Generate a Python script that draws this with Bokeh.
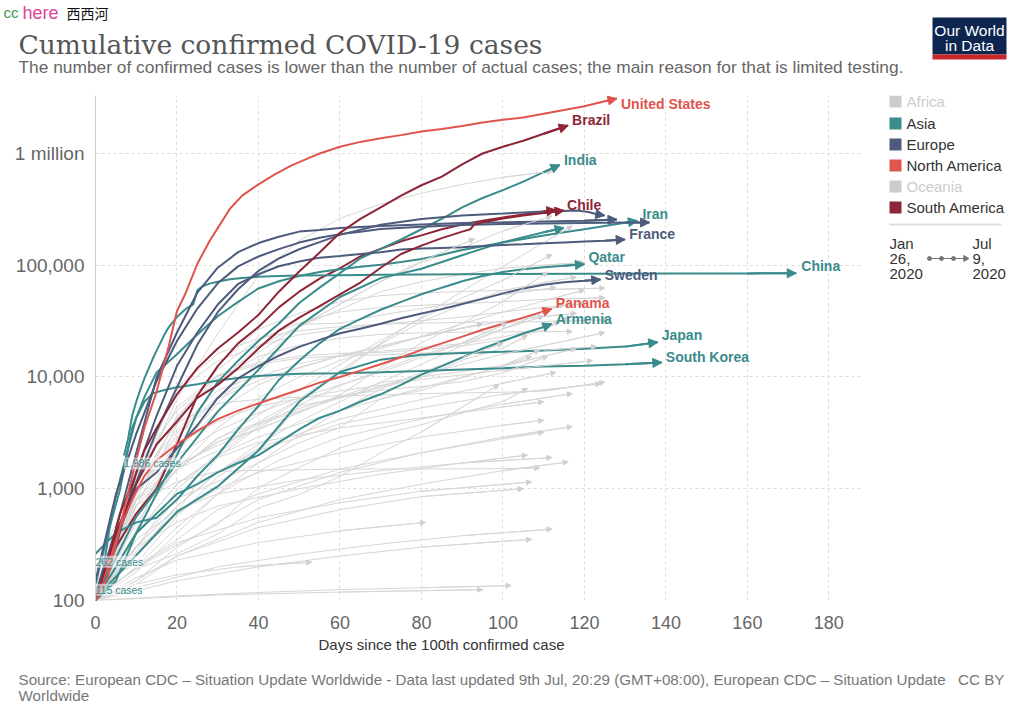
from bokeh.plotting import figure
from bokeh.models import ColumnDataSource, Label, Arrow, NormalHead, FixedTicker, Range1d
from bokeh.layouts import column, row
from bokeh.core.properties import value
from bokeh.embed import file_html
from bokeh.resources import INLINE

# ---------------- data ----------------
x_ticks = [0, 20, 40, 60, 80, 100, 120, 140, 160, 180]
y_ticks = [100, 1000, 10000, 100000, 1000000]
y_tick_labels = ["100", "1,000", "10,000", "100,000", "1 million"]
continents = ["Africa", "Asia", "Europe", "North America", "Oceania", "South America"]
continent_active = [False, True, True, True, False, True]

# highlighted countries (days since 100th case, cumulative confirmed cases)
us_days = [0, 3, 6, 9, 12, 15, 18, 20, 22, 25, 28, 30, 33, 36, 40, 44, 48, 52, 55, 60, 65, 70, 75, 80, 85, 90, 95, 100, 105, 110, 115, 120, 125, 128]
us_cases = [100, 160, 450, 1300, 3500, 7400, 19000, 39000, 55000, 103000, 165000, 215000, 320000, 420000, 530000, 650000, 780000, 900000, 1000000, 1150000, 1270000, 1370000, 1460000, 1570000, 1660000, 1760000, 1890000, 2000000, 2100000, 2270000, 2450000, 2650000, 2930000, 3100000]
brazil_days = [0, 3, 6, 9, 12, 15, 20, 25, 30, 35, 40, 45, 50, 55, 60, 65, 70, 75, 80, 85, 90, 95, 100, 105, 110, 116]
brazil_cases = [100, 230, 600, 1100, 2200, 3500, 7000, 12000, 18000, 25000, 36000, 58000, 88000, 130000, 195000, 260000, 330000, 420000, 520000, 620000, 800000, 1000000, 1150000, 1300000, 1500000, 1780000]
india_days = [0, 5, 10, 15, 20, 25, 30, 35, 40, 45, 50, 55, 60, 65, 70, 75, 80, 85, 90, 95, 100, 105, 110, 114]
india_cases = [100, 150, 400, 900, 2000, 4800, 9000, 14000, 21000, 30000, 46000, 63000, 85000, 115000, 140000, 170000, 210000, 260000, 330000, 400000, 470000, 560000, 680000, 790000]
chile_days = [0, 5, 10, 15, 20, 25, 30, 35, 40, 45, 50, 55, 60, 65, 70, 75, 80, 85, 90, 92, 93, 95, 100, 105, 110, 115]
chile_cases = [100, 400, 1100, 2500, 4000, 6500, 8500, 12000, 18000, 26000, 34000, 43000, 55000, 70000, 95000, 126000, 150000, 175000, 200000, 210000, 232000, 242000, 262000, 278000, 293000, 309000]
peru_days = [0, 5, 10, 15, 20, 25, 30, 35, 40, 45, 50, 55, 60, 65, 70, 75, 80, 85, 90, 95, 100, 105, 110, 113]
peru_cases = [100, 300, 600, 1000, 2500, 6800, 12500, 20000, 28000, 42000, 58000, 76000, 94000, 120000, 140000, 164000, 185000, 210000, 232000, 250000, 268000, 285000, 302000, 312000]
spain_days = [0, 5, 10, 15, 20, 25, 30, 35, 40, 45, 50, 55, 60, 70, 80, 90, 100, 110, 120, 128]
spain_cases = [114, 430, 2100, 9900, 25000, 57000, 95000, 131000, 158000, 180000, 200000, 207000, 215000, 224000, 232000, 239000, 242000, 246000, 250000, 257000]
italy_days = [0, 5, 10, 15, 20, 25, 30, 35, 40, 45, 50, 55, 60, 65, 70, 80, 90, 100, 110, 120, 130, 136]
italy_cases = [150, 890, 3100, 9200, 21000, 41000, 69000, 97700, 119800, 139400, 159500, 175900, 189900, 199400, 210700, 221200, 229300, 233500, 236300, 238700, 240900, 241500]
uk_days = [0, 5, 10, 15, 20, 25, 30, 35, 40, 45, 50, 55, 60, 70, 80, 90, 100, 105, 110, 115, 118, 121, 123, 125]
uk_cases = [115, 370, 1140, 3300, 8100, 19500, 38000, 61000, 89000, 115000, 139000, 161000, 187000, 230000, 259000, 279000, 290000, 296000, 302000, 306000, 309000, 300000, 286000, 279000]
france_days = [0, 5, 10, 15, 20, 25, 30, 35, 40, 45, 50, 55, 60, 65, 70, 75, 80, 85, 90, 95, 100, 105, 110, 115, 120, 125, 130]
france_cases = [100, 300, 1400, 4500, 12600, 25000, 44500, 68000, 83000, 98000, 108000, 117000, 121000, 126000, 131000, 138000, 141000, 143000, 145000, 149000, 152000, 154000, 157000, 160000, 163000, 166000, 170000]
sweden_days = [0, 5, 10, 15, 20, 25, 30, 35, 40, 45, 50, 55, 60, 65, 70, 75, 80, 85, 90, 95, 100, 105, 110, 115, 120, 124]
sweden_cases = [100, 350, 1000, 1400, 2300, 3700, 6500, 9700, 12500, 15500, 18600, 21500, 24600, 27000, 30000, 33500, 37000, 40500, 45000, 50000, 56000, 62000, 67000, 70500, 72500, 74500]
iran_days = [0, 3, 6, 9, 12, 15, 20, 25, 30, 35, 40, 45, 50, 55, 60, 65, 70, 75, 80, 85, 90, 95, 100, 105, 110, 115, 120, 125, 130, 133]
iran_cases = [140, 390, 980, 3500, 6600, 11000, 16000, 24000, 35000, 47000, 62000, 72000, 80000, 87000, 92000, 97000, 101000, 107000, 114000, 124000, 137000, 148000, 160000, 172000, 185000, 197000, 210000, 225000, 240000, 250000]
china_days = [7, 8, 9, 10, 11, 12, 13, 14, 15, 16, 17, 18, 19, 20, 21, 22, 23, 24, 25, 26, 27, 28, 30, 33, 36, 40, 45, 50, 60, 70, 80, 100, 120, 140, 160, 172]
china_cases = [1986, 2800, 4500, 6000, 7700, 9700, 11800, 14400, 17200, 20400, 24300, 28000, 31000, 34500, 37200, 40200, 42700, 44700, 59800, 63800, 66400, 68500, 71300, 75000, 77000, 78900, 80300, 80900, 81500, 82100, 82700, 83300, 84000, 84200, 84500, 84900]
qatar_days = [0, 5, 10, 15, 20, 25, 30, 35, 40, 45, 50, 55, 60, 65, 70, 75, 80, 85, 90, 95, 100, 105, 110, 115, 120]
qatar_cases = [262, 400, 500, 550, 800, 1300, 2000, 3400, 5500, 9400, 14000, 20000, 27000, 33000, 40000, 47000, 55000, 63000, 72000, 80000, 87000, 92000, 96000, 99000, 102000]
saudi_days = [0, 10, 20, 30, 40, 50, 60, 70, 80, 90, 100, 110, 115]
saudi_cases = [103, 560, 1700, 4900, 11600, 28700, 52000, 76700, 93000, 123000, 161000, 197000, 216000]
armenia_days = [0, 5, 10, 15, 20, 25, 30, 35, 40, 45, 50, 55, 60, 65, 70, 75, 80, 85, 90, 95, 100, 105, 110, 112]
armenia_cases = [100, 200, 400, 600, 900, 1100, 1400, 1700, 2000, 2600, 3400, 4300, 5000, 6000, 7000, 8500, 10500, 12500, 15000, 18000, 21000, 24500, 28000, 29900]
japan_days = [0, 10, 20, 30, 40, 50, 60, 70, 80, 90, 100, 110, 120, 130, 138]
japan_cases = [105, 254, 620, 1050, 2200, 6000, 11100, 14300, 15800, 16400, 16800, 17300, 17900, 18700, 20500]
korea_days = [0, 2, 4, 6, 8, 10, 12, 14, 16, 18, 20, 25, 30, 35, 40, 45, 50, 60, 70, 80, 90, 100, 110, 120, 130, 139]
korea_cases = [104, 200, 600, 1200, 2300, 4300, 6000, 7100, 7500, 7800, 8100, 8600, 9300, 9800, 10200, 10500, 10700, 10800, 11000, 11300, 11700, 12000, 12400, 12600, 13000, 13500]
panama_days = [0, 3, 6, 9, 12, 15, 20, 25, 30, 35, 40, 45, 50, 55, 60, 65, 70, 75, 80, 85, 90, 95, 100, 105, 110, 112]
panama_cases = [100, 200, 450, 800, 1300, 1800, 2500, 3300, 4200, 5000, 5800, 6700, 7700, 8900, 10000, 11400, 13000, 15000, 17500, 20000, 23000, 26500, 30000, 34000, 38500, 40700]

# other countries (grey)
g_russia_d = [0, 10, 20, 30, 40, 50, 60, 70, 80, 90, 100, 112]
g_russia_c = [114, 1036, 6343, 24490, 80949, 165929, 262843, 353427, 441108, 528964, 613148, 693000]
g_mexico_d = [0, 10, 20, 30, 40, 50, 60, 70, 80, 90, 100, 112]
g_mexico_c = [118, 585, 2143, 5847, 13842, 27634, 45032, 71105, 105680, 142690, 202951, 275003]
g_safrica_d = [0, 10, 20, 30, 40, 50, 60, 70, 80, 90, 100, 110, 117]
g_safrica_c = [116, 554, 1505, 2173, 3953, 6336, 11350, 20125, 34357, 58568, 97302, 159333, 224665]
g_canada_d = [0, 10, 20, 30, 40, 50, 60, 70, 80, 90, 100, 110, 120]
g_canada_c = [103, 424, 2792, 8612, 19141, 28379, 40179, 58000, 71000, 83000, 94000, 100000, 106000]
g_belgium_d = [0, 10, 20, 30, 40, 50, 60, 70, 80, 90, 100, 110, 125]
g_belgium_c = [109, 689, 3743, 12775, 26667, 37183, 47334, 53449, 56235, 58381, 59569, 60550, 62469]
g_nether_d = [0, 10, 20, 30, 40, 50, 60, 70, 80, 90, 100, 110, 125]
g_nether_c = [128, 959, 4204, 11750, 21762, 30449, 38245, 41774, 43880, 45445, 47152, 49426, 51146]
g_colombia_d = [0, 10, 20, 30, 40, 50, 60, 70, 80, 90, 100, 112]
g_colombia_c = [102, 608, 1485, 2776, 4561, 7668, 12930, 21175, 33354, 50939, 73572, 124494]
g_argentina_d = [0, 10, 20, 30, 40, 50, 60, 70, 80, 90, 100, 111]
g_argentina_c = [128, 820, 1628, 2442, 3435, 4783, 6879, 12076, 20197, 30295, 47216, 87030]
g_egypt_d = [0, 10, 20, 30, 40, 50, 60, 70, 80, 90, 100, 110, 118]
g_egypt_c = [109, 294, 985, 2065, 3659, 6193, 10829, 19666, 31115, 44598, 59561, 69814, 78304]
g_bangla_d = [0, 10, 20, 30, 40, 50, 60, 70, 80, 93]
g_bangla_c = [123, 1572, 4998, 10143, 16660, 28511, 44608, 71675, 108775, 172134]
g_ecuador_d = [0, 10, 20, 30, 40, 50, 60, 70, 80, 90, 100, 113]
g_ecuador_c = [111, 1173, 3368, 7603, 10398, 29538, 30298, 35828, 40966, 46751, 54574, 63245]
g_portugal_d = [0, 10, 20, 30, 40, 50, 60, 70, 80, 90, 100, 110, 120]
g_portugal_c = [112, 1280, 7443, 13956, 19022, 23864, 26715, 29660, 31946, 34351, 38089, 41912, 45277]
g_swiss_d = [0, 10, 20, 30, 40, 50, 60, 70, 80, 90, 100, 110, 126]
g_swiss_c = [120, 1125, 8060, 16176, 22253, 25936, 28268, 29705, 30344, 30796, 31011, 31292, 32498]
g_austria_d = [0, 10, 20, 30, 40, 50, 60, 70, 80, 90, 100, 110, 123]
g_austria_c = [104, 800, 4468, 10180, 12942, 14749, 15402, 15752, 16321, 16731, 17034, 17323, 18655]
g_ireland_d = [0, 10, 20, 30, 40, 50, 60, 70, 80, 90, 100, 110, 117]
g_ireland_c = [129, 1329, 4273, 9655, 15251, 19262, 22248, 24112, 24841, 25163, 25335, 25477, 25538]
g_israel_d = [0, 10, 20, 30, 40, 50, 60, 70, 80, 90, 100, 110, 116]
g_israel_c = [193, 1238, 5358, 10408, 13491, 15398, 16268, 16539, 17495, 18972, 21512, 26257, 33947]
g_poland_d = [0, 10, 20, 30, 40, 50, 60, 70, 80, 90, 100, 110, 118]
g_poland_c = [104, 901, 2946, 6356, 9287, 12218, 15366, 18529, 22825, 27160, 31620, 34775, 37216]
g_romania_d = [0, 10, 20, 30, 40, 50, 60, 70, 80, 90, 100, 110, 114]
g_romania_c = [184, 906, 3183, 6633, 10096, 13163, 15588, 17036, 18283, 19907, 22760, 27746, 31376]
g_nigeria_d = [0, 10, 20, 30, 40, 50, 60, 70, 80, 90, 101]
g_nigeria_c = [111, 276, 627, 1932, 3526, 5621, 8344, 11516, 15682, 20244, 30249]
g_ghana_d = [0, 10, 20, 30, 40, 50, 60, 70, 80, 90, 100, 106]
g_ghana_c = [137, 214, 566, 1279, 2169, 5530, 6486, 8070, 9910, 14154, 18134, 23463]
g_algeria_d = [0, 10, 20, 30, 40, 50, 60, 70, 80, 90, 100, 109]
g_algeria_c = [139, 716, 1572, 2629, 3382, 4838, 6629, 8857, 10050, 11147, 12685, 17348]
g_morocco_d = [0, 10, 20, 30, 40, 50, 60, 70, 80, 90, 100, 111]
g_morocco_c = [115, 791, 1448, 2855, 3897, 5219, 6741, 7643, 8224, 9074, 10907, 15328]
g_cameroon_d = [0, 10, 20, 30, 40, 50, 60, 70, 80, 90, 100, 107]
g_cameroon_c = [113, 306, 820, 1163, 1705, 2579, 3529, 6397, 7599, 9864, 12592, 15173]
g_kenya_d = [0, 10, 20, 30, 40, 50, 60, 70, 80, 99]
g_kenya_c = [110, 191, 262, 395, 672, 887, 1286, 2093, 3215, 8528]
g_senegal_d = [0, 10, 20, 30, 40, 50, 60, 70, 80, 90, 100, 106]
g_senegal_c = [105, 195, 314, 479, 1024, 1551, 2310, 3047, 3739, 4759, 6034, 7882]
g_australia_d = [0, 10, 20, 30, 40, 50, 60, 70, 80, 90, 100, 110, 125]
g_australia_c = [100, 1100, 3900, 5800, 6300, 6600, 6800, 6900, 7100, 7200, 7300, 7500, 9000]
g_nz_d = [0, 10, 20, 30, 40, 50, 60, 70, 80, 90, 100, 109]
g_nz_c = [102, 708, 1160, 1431, 1461, 1478, 1497, 1504, 1504, 1506, 1513, 1533]
g_m1_d = [0, 10, 20, 30, 40, 50, 60, 70, 80, 90, 100, 110, 120]
g_m1_c = [100, 500, 1500, 3500, 6500, 10000, 14000, 18000, 23000, 30000, 38000, 48000, 60000]
g_m2_d = [0, 10, 20, 30, 40, 50, 60, 70, 80, 90, 100, 115]
g_m2_c = [100, 300, 700, 1400, 2500, 4000, 6000, 9000, 13000, 19000, 27000, 45000]
g_m3_d = [0, 10, 20, 30, 40, 50, 60, 70, 80, 90, 100, 110]
g_m3_c = [100, 800, 2000, 3300, 4800, 6500, 8500, 11000, 15000, 20000, 27000, 35000]
g_m4_d = [0, 10, 20, 30, 40, 60, 80, 100, 125]
g_m4_c = [100, 600, 1500, 2600, 3800, 6500, 10500, 16000, 25000]
g_m5_d = [0, 10, 20, 30, 40, 60, 80, 100, 118]
g_m5_c = [100, 400, 1100, 2000, 2900, 5000, 8000, 12500, 18000]
g_m6_d = [0, 10, 20, 30, 40, 60, 80, 100, 122]
g_m6_c = [100, 900, 2500, 4000, 5500, 7500, 9500, 11500, 14000]
g_m7_d = [0, 10, 20, 30, 40, 60, 80, 100, 113]
g_m7_c = [100, 250, 700, 1400, 2300, 4200, 6300, 8800, 11000]
g_m8_d = [0, 10, 20, 30, 40, 50, 60, 70, 80, 90, 100]
g_m8_c = [100, 200, 450, 900, 1700, 3000, 5000, 7800, 11000, 15000, 20000]
g_m9_d = [0, 10, 20, 30, 40, 50, 60, 70, 80, 95]
g_m9_c = [100, 600, 2200, 5000, 8500, 12000, 15500, 19000, 23000, 30000]
g_s1_d = [0, 10, 20, 30, 40, 60, 80, 100, 124]
g_s1_c = [100, 300, 700, 1400, 2200, 3800, 5300, 7000, 8700]
g_s2_d = [0, 10, 20, 30, 45, 60, 80, 100, 117]
g_s2_c = [100, 180, 400, 900, 1800, 2900, 4200, 5700, 7100]
g_s3_d = [0, 10, 20, 30, 40, 60, 80, 100, 110]
g_s3_c = [100, 400, 1100, 1900, 2600, 3500, 4300, 5400, 6000]
g_s4_d = [0, 10, 20, 30, 40, 60, 80, 100, 110]
g_s4_c = [100, 250, 600, 1000, 1400, 2100, 2900, 3700, 4100]
g_s5_d = [0, 10, 20, 30, 40, 60, 80, 100, 117]
g_s5_c = [100, 150, 300, 500, 800, 1400, 2100, 2900, 3600]
g_s6_d = [0, 10, 20, 30, 40, 60, 80, 100, 110]
g_s6_c = [100, 200, 350, 650, 900, 1500, 2100, 2800, 3200]
g_s7_d = [0, 10, 20, 30, 50, 70, 90, 106]
g_s7_c = [100, 300, 500, 700, 1000, 1350, 1700, 2000]
g_s8_d = [0, 10, 20, 40, 60, 80, 100, 116]
g_s8_c = [100, 140, 250, 500, 800, 1100, 1450, 1740]
g_s9_d = [0, 10, 20, 30, 50, 70, 90, 112]
g_s9_c = [100, 350, 650, 900, 1200, 1450, 1700, 1900]
g_s10_d = [0, 10, 20, 40, 60, 80, 107]
g_s10_c = [100, 200, 330, 550, 750, 950, 1150]
g_s11_d = [0, 10, 20, 40, 60, 80, 105]
g_s11_c = [100, 150, 250, 450, 650, 850, 1000]
g_s12_d = [0, 10, 20, 40, 60, 81]
g_s12_c = [100, 160, 230, 330, 420, 500]
g_s13_d = [0, 10, 30, 50, 70, 90, 112]
g_s13_c = [100, 130, 200, 260, 320, 380, 435]
g_s14_d = [0, 20, 40, 60, 80, 107]
g_s14_c = [100, 150, 200, 250, 300, 353]
g_s15_d = [0, 10, 20, 35, 53]
g_s15_c = [100, 140, 170, 200, 220]
g_s16_d = [0, 20, 40, 60, 80, 102]
g_s16_c = [100, 110, 118, 125, 130, 136]
g_s17_d = [0, 30, 60, 95]
g_s17_c = [100, 112, 119, 125]

start_notes = ["1,986 cases", "262 cases", "115 cases"]

# ---------------- styling ----------------
TEAL = "#3a8b8b"
EURO = "#4d5b7c"
NAM = "#e0544e"
SAM = "#8e2537"
GREY = "#d6d6d6"
CONT_COL = ["#cccccc", TEAL, EURO, NAM, "#cccccc", SAM]
SANS = "Liberation Sans"

# page geometry (pixels of the 1024x722 page)
HEAD_H, MAIN_H = 80, 552
FOOT_H = 722 - HEAD_H - MAIN_H
MAIN_W, LEG_W = 880, 144
FL, FR, FT, FB = 95, 863, 95, 600
XMAX = 188.5
YMIN, YMAX = 100, 10 ** 6.519


def deco_fig(w, h, x0, y_top, y_bot, b_top=0, b_bot=0):
    f = figure(width=w, height=h, x_range=Range1d(x0, x0 + w), y_range=Range1d(y_bot, y_top),
               x_axis_type=None, y_axis_type=None, output_backend="svg", toolbar_location=None,
               min_border_left=0, min_border_right=0, min_border_top=b_top, min_border_bottom=b_bot)
    f.outline_line_color = None
    f.grid.visible = False
    f.background_fill_color = "white"
    f.border_fill_color = "white"
    return f


def txt(f, x, y, text, size, color, font=SANS, style="normal", align="left", baseline="middle"):
    f.text(x=[x], y=[y], text=[text], text_font=value(font), text_font_size=f"{size}px",
           text_color=color, text_font_style=style, text_align=align, text_baseline=baseline)


# ---------------- main chart ----------------
p = figure(width=MAIN_W, height=MAIN_H, x_range=Range1d(0, XMAX), y_range=Range1d(YMIN, YMAX),
           y_axis_type="log", output_backend="svg", toolbar_location=None,
           min_border_left=FL, min_border_right=MAIN_W - FR, min_border_top=FT - HEAD_H,
           min_border_bottom=HEAD_H + MAIN_H - FB)
p.outline_line_color = None
p.background_fill_color = "white"
p.border_fill_color = "white"

p.xaxis.ticker = FixedTicker(ticks=x_ticks)
p.yaxis.ticker = FixedTicker(ticks=y_ticks)
p.yaxis.major_label_overrides = {t: s for t, s in zip(y_ticks, y_tick_labels)}
for ax in (p.xaxis, p.yaxis):
    ax.major_tick_line_color = None
    ax.minor_tick_line_color = None
    ax.major_label_text_font = SANS
    ax.major_label_text_color = "#666666"
p.xaxis.axis_line_color = None
p.xaxis.major_label_text_font_size = "18px"
p.xaxis.major_label_standoff = 9
p.yaxis.axis_line_color = "#cccccc"
p.yaxis.major_label_text_font_size = "19px"
p.yaxis.major_label_standoff = 5

p.xgrid.ticker = FixedTicker(ticks=x_ticks[1:])
p.ygrid.ticker = FixedTicker(ticks=y_ticks)
for g in (p.xgrid, p.ygrid):
    g.grid_line_color = "#dddddd"
    g.grid_line_dash = "3 3"
    g.grid_line_width = 1

grey_series = [
    (g_russia_d, g_russia_c), (g_mexico_d, g_mexico_c), (g_safrica_d, g_safrica_c), (g_canada_d, g_canada_c),
    (g_belgium_d, g_belgium_c), (g_nether_d, g_nether_c), (g_colombia_d, g_colombia_c), (g_argentina_d, g_argentina_c),
    (g_egypt_d, g_egypt_c), (g_bangla_d, g_bangla_c), (g_ecuador_d, g_ecuador_c), (g_portugal_d, g_portugal_c),
    (g_swiss_d, g_swiss_c), (g_austria_d, g_austria_c), (g_ireland_d, g_ireland_c), (g_israel_d, g_israel_c),
    (g_poland_d, g_poland_c), (g_romania_d, g_romania_c), (g_nigeria_d, g_nigeria_c), (g_ghana_d, g_ghana_c),
    (g_algeria_d, g_algeria_c), (g_morocco_d, g_morocco_c), (g_cameroon_d, g_cameroon_c), (g_kenya_d, g_kenya_c),
    (g_senegal_d, g_senegal_c), (g_australia_d, g_australia_c), (g_nz_d, g_nz_c),
    (g_m1_d, g_m1_c), (g_m2_d, g_m2_c), (g_m3_d, g_m3_c), (g_m4_d, g_m4_c), (g_m5_d, g_m5_c),
    (g_m6_d, g_m6_c), (g_m7_d, g_m7_c), (g_m8_d, g_m8_c), (g_m9_d, g_m9_c),
    (g_s1_d, g_s1_c), (g_s2_d, g_s2_c), (g_s3_d, g_s3_c), (g_s4_d, g_s4_c), (g_s5_d, g_s5_c),
    (g_s6_d, g_s6_c), (g_s7_d, g_s7_c), (g_s8_d, g_s8_c), (g_s9_d, g_s9_c), (g_s10_d, g_s10_c),
    (g_s11_d, g_s11_c), (g_s12_d, g_s12_c), (g_s13_d, g_s13_c), (g_s14_d, g_s14_c), (g_s15_d, g_s15_c),
    (g_s16_d, g_s16_c), (g_s17_d, g_s17_c),
]
gsrc = dict(x0=[], y0=[], x1=[], y1=[])
for d, c in grey_series:
    p.line(d, c, line_color=GREY, line_width=1)
    gsrc["x0"].append(d[-2]); gsrc["y0"].append(c[-2])
    gsrc["x1"].append(d[-1]); gsrc["y1"].append(c[-1])
p.add_layout(Arrow(end=NormalHead(size=5, fill_color="#d0d0d0", line_color="#d0d0d0"),
                   x_start="x0", y_start="y0", x_end="x1", y_end="y1",
                   source=ColumnDataSource(gsrc), line_color=GREY, line_width=1))

# (label, days, cases, colour, label x offset px, label y offset px)
highlight = [
    (None, peru_days, peru_cases, SAM, 0, 0),
    (None, saudi_days, saudi_cases, TEAL, 0, 0),
    ("Japan", japan_days, japan_cases, TEAL, 4, 7),
    ("South Korea", korea_days, korea_cases, TEAL, 4, 5),
    ("Armenia", armenia_days, armenia_cases, TEAL, 4, 5),
    ("Qatar", qatar_days, qatar_cases, TEAL, 4, 7),
    ("Iran", iran_days, iran_cases, TEAL, 5, 7),
    ("China", china_days, china_cases, TEAL, 5, 7),
    ("India", india_days, india_cases, TEAL, 4, 5),
    ("Sweden", sweden_days, sweden_cases, EURO, 4, 5),
    ("France", france_days, france_cases, EURO, 4, 5),
    (None, italy_days, italy_cases, EURO, 0, 0),
    (None, spain_days, spain_cases, EURO, 0, 0),
    (None, uk_days, uk_cases, EURO, 0, 0),
    ("Panama", panama_days, panama_cases, NAM, 4, 6),
    ("Chile", chile_days, chile_cases, SAM, 3, 5),
    ("Brazil", brazil_days, brazil_cases, SAM, 4, 6),
    ("United States", us_days, us_cases, NAM, 4, -5),
]
for name, d, c, col, ox, oy in highlight:
    p.line(d, c, line_color=col, line_width=2)
for name, d, c, col, ox, oy in highlight:
    p.add_layout(Arrow(end=NormalHead(size=9, fill_color=col, line_color=col, line_width=1),
                       x_start=d[-2], y_start=c[-2], x_end=d[-1], y_end=c[-1],
                       line_color=col, line_width=2))
    if name:
        p.add_layout(Label(x=d[-1], y=c[-1], x_offset=ox, y_offset=oy, text=name, text_color=col,
                           text_font=SANS, text_font_size="14px", text_font_style="bold",
                           text_baseline="middle", text_align="left"))

note_style = [("top", -2), ("top", -2), ("middle", 4)]
for note, d, c, (bl, oy) in zip(start_notes, [china_days, qatar_days, uk_days], [china_cases, qatar_cases, uk_cases], note_style):
    p.add_layout(Label(x=d[0], y=c[0], x_offset=0, y_offset=oy, text=note, text_color="#3a8b8b",
                       text_font=SANS, text_font_size="10.5px", text_baseline=bl, text_align="left",
                       background_fill_color="white", background_fill_alpha=0.55))

# ---------------- header ----------------
head = deco_fig(1024, HEAD_H, 0, 0, HEAD_H)
txt(head, 3, 12, "cc", 15, "#3d9a48")
txt(head, 22, 12, "here", 18, "#e0449a")
txt(head, 66, 12, "西西河", 14, "#111111", font="Noto Sans CJK SC")
txt(head, 18, 44, "Cumulative confirmed COVID-19 cases", 26.5, "#555555", font="DejaVu Serif", baseline="alphabetic")
txt(head, 18, 66, "The number of confirmed cases is lower than the number of actual cases; the main reason for that is limited testing.",
    17.35, "#666666", baseline="alphabetic")
head.quad(left=[932], right=[1006], top=[17], bottom=[54], fill_color="#0d2650", line_color=None)
head.quad(left=[932], right=[1006], top=[54], bottom=[59], fill_color="#c8282a", line_color=None)
txt(head, 969, 30, "Our World", 15.5, "#ffffff", align="center")
txt(head, 969, 45, "in Data", 15.5, "#ffffff", align="center")

# ---------------- legend (right of chart; frame aligned with the chart frame) ----------------
leg = deco_fig(LEG_W, MAIN_H, MAIN_W, FT, FB, b_top=FT - HEAD_H, b_bot=HEAD_H + MAIN_H - FB)
leg_y = [101, 123, 144, 165, 186, 207]
for name, active, col, yy in zip(continents, continent_active, CONT_COL, leg_y):
    leg.quad(left=[889], right=[901], top=[yy - 6], bottom=[yy + 6], fill_color=col, line_color=None)
    txt(leg, 906, yy, name, 15, "#333333" if active else "#cccccc")
leg.line([889, 1001], [224, 224], line_color="#dddddd", line_width=2)
for t, yy in zip(["Jan", "26,", "2020"], [243, 258, 273]):
    txt(leg, 889, yy, t, 15, "#333333")
for t, yy in zip(["Jul", "9,", "2020"], [243, 258, 273]):
    txt(leg, 972, yy, t, 15, "#333333")
leg.line([929, 964], [258, 258], line_color="#777777", line_width=1)
leg.scatter([929, 941, 953], [258, 258, 258], size=4, color="#777777")
leg.scatter([965], [258], marker="triangle", size=6, angle=-1.5708, color="#777777")

# ---------------- footer (axis title + source) ----------------
foot = deco_fig(1024, FOOT_H, 0, HEAD_H + MAIN_H, 722)
txt(foot, 441, 644, "Days since the 100th confirmed case", 15, "#333333", align="center")
txt(foot, 18, 679, "Source: European CDC – Situation Update Worldwide - Data last updated 9th Jul, 20:29 (GMT+08:00), European CDC – Situation Update",
    15.2, "#777777")
txt(foot, 18, 695, "Worldwide", 15.2, "#777777")
txt(foot, 1004, 679, "CC BY", 15.2, "#777777", align="right")

layout = column(head, row(p, leg), foot)
open("out.html", "w").write(file_html(layout, INLINE))
